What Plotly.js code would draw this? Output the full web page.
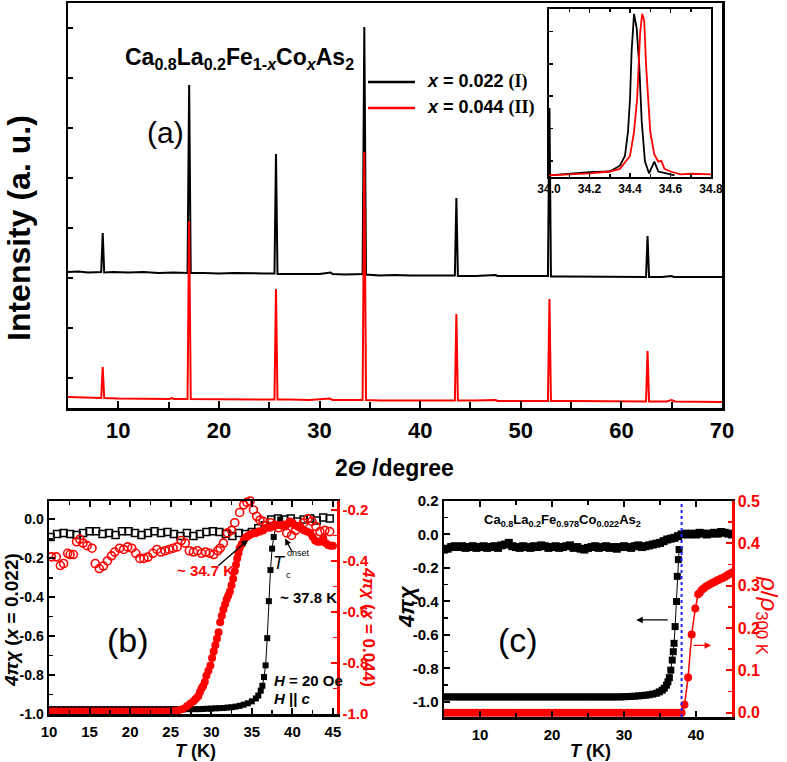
<!DOCTYPE html>
<html><head><meta charset="utf-8">
<script src="https://cdn.plot.ly/plotly-3.0.1.min.js"></script>
<style>html,body{margin:0;padding:0;background:#fff}#chart{width:787px;height:762px}</style>
</head><body><div id="chart"></div>
<script>
// ---------- Panel (a): XRD patterns (intensity offset, arbitrary units) ----------
const xrdTwoThetaI = [5.0,6.0,7.0,8.0,8.3,8.45,8.6,9.5,11.0,12.5,14.0,15.5,16.88,17.04,17.2,18.5,20.0,21.5,23.0,24.5,25.52,25.67,25.82,27.0,28.5,30.0,31.1,31.3,32.5,33.8,34.28,34.45,34.62,36.0,37.5,39.0,40.5,42.0,43.45,43.6,43.75,45.5,47.5,47.7,49.0,50.5,52.0,52.7,52.85,53.0,54.5,56.0,57.5,59.0,60.5,62.45,62.6,62.75,64.0,65.0,65.2,67.0,68.5,70.0];
const xrdIntI = [2.12,2.13,2.11,2.12,2.12,2.90,2.11,2.12,2.11,2.12,2.10,2.11,2.10,5.86,2.10,2.10,2.09,2.10,2.09,2.09,2.09,4.48,2.08,2.08,2.09,2.08,2.11,2.08,2.07,2.07,2.08,7.02,2.07,2.05,2.06,2.05,2.05,2.05,2.05,3.60,2.04,2.04,2.06,2.04,2.04,2.04,2.04,2.04,5.40,2.03,2.03,2.03,2.03,2.03,2.02,2.02,2.84,2.02,2.02,2.04,2.02,2.02,2.02,2.02];
const xrdTwoThetaII = [5.0,6.0,7.0,8.3,8.45,8.6,10.0,11.5,13.0,15.1,15.3,15.5,16.88,17.04,17.2,18.5,20.0,22.0,24.0,25.52,25.67,25.82,27.0,29.0,31.0,31.3,33.0,34.28,34.45,34.62,36.0,38.0,40.0,42.0,43.45,43.6,43.75,45.5,47.5,47.7,49.0,51.0,52.7,52.85,53.0,55.0,57.0,59.0,60.5,62.45,62.6,62.75,64.5,65.0,65.3,67.0,70.0];
const xrdIntII = [-0.38,-0.39,-0.40,-0.40,0.22,-0.40,-0.41,-0.41,-0.42,-0.42,-0.40,-0.42,-0.42,3.14,-0.42,-0.42,-0.42,-0.43,-0.43,-0.43,1.78,-0.43,-0.43,-0.44,-0.41,-0.44,-0.44,-0.44,4.52,-0.44,-0.45,-0.45,-0.44,-0.45,-0.45,1.28,-0.45,-0.45,-0.44,-0.46,-0.46,-0.46,-0.46,1.58,-0.46,-0.46,-0.46,-0.47,-0.47,-0.47,0.54,-0.47,-0.47,-0.44,-0.47,-0.47,-0.48];
const xrdTickVals = [10,20,30,40,50,60,70];
const xrdTickText = ['10','20','30','40','50','60','70'];
const seriesNames = ['x = 0.022 (I)','x = 0.044 (II)'];

// inset: peak near 34.4 deg, normalised
const insetThetaI = [34.0,34.1,34.2,34.3,34.35,34.375,34.39,34.40,34.408,34.42,34.433,34.446,34.458,34.474,34.494,34.52,34.54,34.58,34.62];
const insetIntI = [0.0,0.01,0.02,0.024,0.06,0.12,0.27,0.47,0.77,1.0,0.91,0.67,0.33,0.085,0.012,0.085,0.024,0.012,0.0];
const insetThetaII = [34.0,34.1,34.2,34.3,34.35,34.40,34.42,34.435,34.45,34.46,34.47,34.48,34.49,34.50,34.52,34.54,34.555,34.57,34.60,34.65,34.70,34.75,34.80];
const insetIntII = [0.0,0.006,0.012,0.024,0.04,0.12,0.27,0.47,0.88,1.0,0.96,0.67,0.47,0.27,0.13,0.085,0.09,0.04,0.024,0.006,0.01,0.01,0.006];
const insetTickVals = [34.0,34.2,34.4,34.6,34.8];
const insetTickText = ['34.0','34.2','34.4','34.6','34.8'];

// ---------- Panel (b): susceptibility ----------
const bT_fcI = [10.2,11.0,11.8,12.6,13.4,14.2,15.0,15.8,16.6,17.4,18.2,19.0,19.8,20.6,21.4,22.2,23.0,23.8,24.6,25.4,26.2,27.0,27.8,28.6,29.4,30.2,31.0,31.8,32.6,33.4,34.2,35.0,35.8,36.6,37.4,38.2,39.0,39.8,40.6,41.4,42.2,43.0,43.8,44.6];
const bChi_fcI = [-0.09,-0.075,-0.07,-0.075,-0.08,-0.07,-0.06,-0.06,-0.075,-0.07,-0.08,-0.06,-0.06,-0.07,-0.08,-0.07,-0.06,-0.07,-0.065,-0.075,-0.085,-0.07,-0.085,-0.075,-0.065,-0.06,-0.065,-0.075,-0.085,-0.07,-0.075,-0.065,-0.045,-0.03,0.0,0.005,0.0,0.005,-0.01,0.0,0.005,-0.005,0.01,0.005];
const bT_zfcI = [10,10.5,11,11.5,12,12.5,13,13.5,14,14.5,15,15.5,16,16.5,17,17.5,18,18.5,19,19.5,20,20.5,21,21.5,22,22.5,23,23.5,24,24.5,25,25.5,26,26.5,27,27.5,28,28.5,29,29.5,30,30.5,31,31.5,32,32.5,33,33.5,34,34.5,35,35.5,35.8,36.1,36.3,36.5,36.7,36.9,37.1,37.3,37.5,37.7,38.0,38.5];
const bChi_zfcI = [-0.975,-0.975,-0.975,-0.975,-0.975,-0.975,-0.975,-0.975,-0.975,-0.975,-0.975,-0.975,-0.975,-0.975,-0.975,-0.975,-0.975,-0.975,-0.975,-0.975,-0.975,-0.975,-0.975,-0.975,-0.975,-0.975,-0.975,-0.975,-0.975,-0.975,-0.975,-0.975,-0.975,-0.975,-0.975,-0.975,-0.975,-0.975,-0.974,-0.973,-0.972,-0.971,-0.97,-0.969,-0.967,-0.965,-0.962,-0.958,-0.952,-0.945,-0.935,-0.92,-0.905,-0.88,-0.855,-0.81,-0.75,-0.61,-0.42,-0.26,-0.15,-0.09,-0.03,0.0];
const bT_fcII = [10.3,10.9,11.4,11.8,12.3,12.6,13.0,13.4,13.8,14.2,14.7,15.3,15.7,16.2,16.7,17.2,17.7,18.1,18.7,19.2,19.7,20.2,20.7,21.2,21.7,22.2,22.8,23.3,23.8,24.3,24.8,25.3,25.8,26.3,26.8,27.3,27.8,28.3,28.8,29.3,29.8,30.3,30.8,31.1,31.5,32.0,32.5,32.9,33.5,34.0,34.4,34.8,35.2,35.6,36.0,36.4,36.8,37.3,37.8,38.3,38.8,39.3,39.9,40.4,40.9,41.4,41.9,42.4,42.9,43.4,44.0,44.6];
const bChi_fcII = [-0.384,-0.384,-0.418,-0.41,-0.37,-0.375,-0.375,-0.325,-0.315,-0.33,-0.34,-0.35,-0.41,-0.43,-0.42,-0.40,-0.38,-0.365,-0.35,-0.355,-0.345,-0.35,-0.37,-0.39,-0.39,-0.385,-0.37,-0.355,-0.365,-0.36,-0.355,-0.35,-0.345,-0.32,-0.33,-0.36,-0.365,-0.36,-0.37,-0.365,-0.37,-0.375,-0.36,-0.35,-0.33,-0.29,-0.28,-0.25,-0.21,-0.18,-0.17,-0.165,-0.2,-0.225,-0.24,-0.245,-0.26,-0.25,-0.26,-0.27,-0.26,-0.29,-0.30,-0.28,-0.265,-0.25,-0.235,-0.245,-0.265,-0.285,-0.28,-0.285];
const bT_zfcII = [10,10.5,11,11.5,12,12.5,13,13.5,14,14.5,15,15.5,16,16.5,17,17.5,18,18.5,19,19.5,20,20.5,21,21.5,22,22.5,23,23.5,24,24.5,25,25.5,26,26.5,27,27.4,27.8,28.1,28.4,28.6,28.8,29.0,29.2,29.4,29.65,29.9,30.1,30.3,30.5,30.7,30.9,31.1,31.3,31.5,31.7,31.9,32.1,32.3,32.5,32.7,32.9,33.05,33.2,33.35,33.5,33.75,34.0,34.2,34.4,34.6,34.9,35.2,35.5,35.8,36.0,36.4,36.8,37.2,37.6,38.1,38.5,39.1,39.4,39.7,40.0,40.3,40.7,41.0,41.4,41.8,42.2,42.5,42.8,43.1,43.4,43.8,44.1,44.4,44.7,45.0];
const bChi_zfcII = [-0.99,-0.99,-0.99,-0.99,-0.99,-0.99,-0.99,-0.99,-0.99,-0.99,-0.99,-0.99,-0.99,-0.99,-0.99,-0.99,-0.99,-0.99,-0.99,-0.99,-0.99,-0.99,-0.99,-0.99,-0.99,-0.99,-0.99,-0.99,-0.99,-0.99,-0.99,-0.988,-0.985,-0.98,-0.97,-0.96,-0.95,-0.94,-0.93,-0.915,-0.90,-0.89,-0.875,-0.85,-0.83,-0.81,-0.78,-0.755,-0.73,-0.705,-0.68,-0.64,-0.615,-0.59,-0.57,-0.55,-0.535,-0.52,-0.495,-0.47,-0.44,-0.415,-0.39,-0.37,-0.35,-0.335,-0.32,-0.31,-0.305,-0.30,-0.295,-0.29,-0.29,-0.285,-0.285,-0.28,-0.27,-0.27,-0.265,-0.26,-0.26,-0.265,-0.255,-0.245,-0.25,-0.26,-0.265,-0.27,-0.28,-0.285,-0.29,-0.305,-0.32,-0.325,-0.325,-0.31,-0.33,-0.337,-0.34,-0.34];
const bTickVals = [10,15,20,25,30,35,40,45];
const bTickText = ['10','15','20','25','30','35','40','45'];
const bLeftTickVals = [-1.0,-0.8,-0.6,-0.4,-0.2,0.0];
const bLeftTickText = ['-1.0','-0.8','-0.6','-0.4','-0.2','0.0'];
const bRightTickVals = [-1.0,-0.8,-0.6,-0.4,-0.2];
const bRightTickText = ['-1.0','-0.8','-0.6','-0.4','-0.2'];

// ---------- Panel (c): chi and resistivity, x = 0.022 ----------
const cT_fc = [5.0,5.5,6.0,6.5,7.0,7.5,8.0,8.5,9.0,9.5,10,10.5,11,11.5,12,12.5,13,13.5,14,14.5,15,15.5,16,16.5,17,17.5,18,18.5,19,19.5,20,20.5,21,21.5,22,22.5,23,23.5,24,24.5,25,25.5,26,26.5,27,27.5,28,28.5,29,29.5,30,30.5,31,31.5,32,32.5,33,33.5,34,34.5,35,35.5,36,36.5,37,37.5,38,38.5,39,39.5,40,40.5,41,41.5,42,42.5,43,43.5,44,44.5,45];
const cChi_fc = [-0.09,-0.085,-0.075,-0.07,-0.075,-0.07,-0.08,-0.075,-0.07,-0.08,-0.075,-0.07,-0.08,-0.075,-0.07,-0.08,-0.065,-0.06,-0.05,-0.07,-0.075,-0.08,-0.07,-0.075,-0.08,-0.07,-0.075,-0.065,-0.07,-0.08,-0.075,-0.07,-0.08,-0.075,-0.07,-0.065,-0.08,-0.075,-0.085,-0.09,-0.08,-0.075,-0.07,-0.08,-0.075,-0.07,-0.08,-0.075,-0.085,-0.075,-0.07,-0.075,-0.08,-0.07,-0.065,-0.075,-0.07,-0.065,-0.06,-0.055,-0.05,-0.04,-0.03,-0.025,-0.02,-0.01,0.0,0.005,0.0,0.005,0.0,0.01,0.005,0.0,0.005,0.01,0.005,0.015,0.01,0.005,0.0];
const cT_zfc = [5.0,5.5,6.0,6.5,7.0,7.5,8.0,8.5,9.0,9.5,10,10.5,11,11.5,12,12.5,13,13.5,14,14.5,15,15.5,16,16.5,17,17.5,18,18.5,19,19.5,20,20.5,21,21.5,22,22.5,23,23.5,24,24.5,25,25.5,26,26.5,27,27.5,28,28.5,29,29.5,30,30.5,31,31.5,32,32.5,33,33.5,34,34.5,34.9,35.3,35.6,35.9,36.1,36.3,36.5,36.7,36.85,36.95,37.1,37.3,37.4,37.55,37.65];
const cChi_zfc = [-0.97,-0.97,-0.97,-0.97,-0.97,-0.97,-0.97,-0.97,-0.97,-0.97,-0.97,-0.97,-0.97,-0.97,-0.97,-0.97,-0.97,-0.97,-0.97,-0.97,-0.97,-0.97,-0.97,-0.97,-0.97,-0.97,-0.97,-0.97,-0.97,-0.97,-0.97,-0.97,-0.97,-0.97,-0.97,-0.97,-0.97,-0.97,-0.97,-0.97,-0.97,-0.97,-0.97,-0.97,-0.97,-0.97,-0.97,-0.97,-0.97,-0.97,-0.969,-0.968,-0.967,-0.966,-0.964,-0.962,-0.96,-0.957,-0.953,-0.948,-0.94,-0.93,-0.918,-0.9,-0.88,-0.855,-0.81,-0.75,-0.70,-0.65,-0.55,-0.40,-0.25,-0.15,-0.09];
const cT_rho = [5.0,5.5,6.0,6.5,7.0,7.5,8.0,8.5,9.0,9.5,10,10.5,11,11.5,12,12.5,13,13.5,14,14.5,15,15.5,16,16.5,17,17.5,18,18.5,19,19.5,20,20.5,21,21.5,22,22.5,23,23.5,24,24.5,25,25.5,26,26.5,27,27.5,28,28.5,29,29.5,30,30.5,31,31.5,32,32.5,33,33.5,34,34.5,35,35.5,36,36.5,37,37.5,38.0,38.4,38.9,39.4,39.9,40.3,40.5,40.8,41.1,41.4,41.7,42.0,42.3,42.6,42.9,43.2,43.5,43.8,44.1,44.4,44.7,45.0];
const cRho = [0,0,0,0,0,0,0,0,0,0,0,0,0,0,0,0,0,0,0,0,0,0,0,0,0,0,0,0,0,0,0,0,0,0,0,0,0,0,0,0,0,0,0,0,0,0,0,0,0,0,0,0,0,0,0,0,0,0,0,0,0,0,0,0,0,0,0.0,0.019,0.083,0.185,0.246,0.28,0.283,0.29,0.294,0.298,0.301,0.304,0.307,0.309,0.312,0.314,0.317,0.319,0.322,0.325,0.328,0.331];
const tcLine = 38.0;
const cTickVals = [10,20,30,40];
const cTickText = ['10','20','30','40'];
const cLeftTickVals = [-1.0,-0.8,-0.6,-0.4,-0.2,0.0,0.2];
const cLeftTickText = ['-1.0','-0.8','-0.6','-0.4','-0.2','0.0','0.2'];
const cRightTickVals = [0.0,0.1,0.2,0.3,0.4,0.5];
const cRightTickText = ['0.0','0.1','0.2','0.3','0.4','0.5'];

// ---------- layout helpers ----------
const W = 787, H = 762;
const px = v => v / W;
const py = v => 1 - v / H;
const FONT = 'Liberation Sans, Arial, sans-serif';
const RED = '#ff0000';

const traces = [
  {x: xrdTwoThetaI, y: xrdIntI, xaxis: 'x', yaxis: 'y', mode: 'lines', name: seriesNames[0], line: {color: '#000', width: 2}},
  {x: xrdTwoThetaII, y: xrdIntII, xaxis: 'x', yaxis: 'y', mode: 'lines', name: seriesNames[1], line: {color: RED, width: 2}},
  {x: insetThetaI, y: insetIntI, xaxis: 'x2', yaxis: 'y2', mode: 'lines', line: {color: '#000', width: 1.8}},
  {x: insetThetaII, y: insetIntII, xaxis: 'x2', yaxis: 'y2', mode: 'lines', line: {color: RED, width: 1.8}},
  {x: bT_fcI, y: bChi_fcI, xaxis: 'x3', yaxis: 'y3', mode: 'markers', marker: {symbol: 'square-open', size: 7, color: '#000', line: {width: 1.5}}},
  {x: bT_zfcI, y: bChi_zfcI, xaxis: 'x3', yaxis: 'y3', mode: 'lines+markers', line: {color: '#000', width: 1}, marker: {symbol: 'square', size: 6, color: '#000'}},
  {x: bT_fcII, y: bChi_fcII, xaxis: 'x3', yaxis: 'y4', mode: 'markers', cliponaxis: false, marker: {symbol: 'circle-open', size: 8, color: RED, line: {width: 1.6}}},
  {x: bT_zfcII, y: bChi_zfcII, xaxis: 'x3', yaxis: 'y4', mode: 'lines+markers', line: {color: RED, width: 1, dash: 'dot'}, marker: {symbol: 'circle', size: 8, color: RED}},
  {x: cT_fc, y: cChi_fc, xaxis: 'x4', yaxis: 'y5', mode: 'markers', marker: {symbol: 'square', size: 8, color: '#000'}},
  {x: cT_zfc, y: cChi_zfc, xaxis: 'x4', yaxis: 'y5', mode: 'lines+markers', line: {color: '#000', width: 1}, marker: {symbol: 'square', size: 7, color: '#000'}},
  {x: cT_rho, y: cRho, xaxis: 'x4', yaxis: 'y6', mode: 'lines+markers', line: {color: RED, width: 1.5}, marker: {symbol: 'circle', size: 8, color: RED}}
];

const axBase = {showgrid: false, zeroline: false, showline: true, linecolor: '#000', linewidth: 2.5,
  ticks: 'inside', tickcolor: '#000', tickwidth: 2, ticklen: 6, fixedrange: true};

function tf(size, color) { return {family: FONT, size: size, color: color || '#000', weight: 'bold'}; }

const layout = {
  width: W, height: H, margin: {l: 0, r: 0, t: 0, b: 0},
  paper_bgcolor: '#fff', plot_bgcolor: 'rgba(0,0,0,0)', showlegend: false,
  font: {family: FONT, color: '#000'},
  xaxis: Object.assign({}, axBase, {domain: [px(68), px(722)], anchor: 'y', range: [5, 70], mirror: true,
    tickvals: xrdTickVals, ticktext: xrdTickText, tickfont: tf(22), ticklen: 7, ticklabelstandoff: 1,
    minor: {tickvals: [15,25,35,45,55,65], ticks: 'inside', ticklen: 6, tickwidth: 2, tickcolor: '#000'}}),
  yaxis: Object.assign({}, axBase, {domain: [py(408), py(3)], anchor: 'x', range: [-0.6, 7.5], mirror: true,
    tickvals: [0,1,2,3,4,5,6,7], showticklabels: false, ticklen: 5}),
  xaxis2: Object.assign({}, axBase, {domain: [px(549), px(711)], anchor: 'y2', range: [34.0, 34.8], mirror: 'ticks', linewidth: 2,
    tickvals: insetTickVals, ticktext: insetTickText, tickfont: tf(12), ticklen: 4, tickwidth: 1.5,
    minor: {tickvals: [34.1,34.3,34.5,34.7], ticks: 'inside', ticklen: 3, tickwidth: 1.5, tickcolor: '#000'}}),
  yaxis2: Object.assign({}, axBase, {domain: [py(177), py(9)], anchor: 'x2', range: [-0.01, 1.03], mirror: true, linewidth: 2,
    tickvals: [0.09,0.29,0.49,0.69,0.89], showticklabels: false, ticklen: 4, tickwidth: 1.5}),
  xaxis3: Object.assign({}, axBase, {domain: [px(49), px(337)], anchor: 'y3', range: [10, 45.5], mirror: 'ticks',
    tickvals: bTickVals, ticktext: bTickText, tickfont: tf(15), ticklen: 6, ticklabelstandoff: 2,
    minor: {tickvals: [12.5,17.5,22.5,27.5,32.5,37.5,42.5], ticks: 'inside', ticklen: 4, tickwidth: 1.5, tickcolor: '#000'}}),
  yaxis3: Object.assign({}, axBase, {domain: [py(714), py(501)], anchor: 'x3', range: [-1.0, 0.095],
    tickvals: bLeftTickVals, ticktext: bLeftTickText, tickfont: tf(14),
    minor: {tickvals: [-0.9,-0.7,-0.5,-0.3,-0.1], ticks: 'inside', ticklen: 4, tickwidth: 1.5, tickcolor: '#000'}}),
  yaxis4: Object.assign({}, axBase, {overlaying: 'y3', side: 'right', anchor: 'x3', range: [-1.0, -0.165],
    linecolor: RED, tickcolor: RED, tickvals: bRightTickVals, ticktext: bRightTickText, tickfont: tf(15, RED),
    minor: {tickvals: [-0.9,-0.7,-0.5,-0.3], ticks: 'inside', ticklen: 4, tickwidth: 1.5, tickcolor: RED}}),
  xaxis4: Object.assign({}, axBase, {domain: [px(444), px(732)], anchor: 'y5', range: [5, 45], mirror: 'ticks',
    tickvals: cTickVals, ticktext: cTickText, tickfont: tf(15), ticklen: 6, ticklabelstandoff: 2,
    minor: {tickvals: [5,15,25,35,45], ticks: 'inside', ticklen: 4, tickwidth: 1.5, tickcolor: '#000'}}),
  yaxis5: Object.assign({}, axBase, {domain: [py(717), py(501)], anchor: 'x4', range: [-1.09, 0.2],
    tickvals: cLeftTickVals, ticktext: cLeftTickText, tickfont: tf(15),
    minor: {tickvals: [-0.9,-0.7,-0.5,-0.3,-0.1,0.1], ticks: 'inside', ticklen: 4, tickwidth: 1.5, tickcolor: '#000'}}),
  yaxis6: Object.assign({}, axBase, {overlaying: 'y5', side: 'right', anchor: 'x4', range: [-0.01, 0.5],
    linecolor: RED, tickcolor: RED, tickvals: cRightTickVals, ticktext: cRightTickText, tickfont: tf(16, RED),
    minor: {tickvals: [0.05,0.15,0.25,0.35,0.45], ticks: 'inside', ticklen: 4, tickwidth: 1.5, tickcolor: RED}}),
  shapes: [
    {type: 'line', xref: 'x4', yref: 'y5 domain', x0: tcLine, x1: tcLine, y0: 0, y1: 1, line: {color: '#2222ff', width: 2, dash: 'dot'}},
    {type: 'line', xref: 'paper', yref: 'paper', x0: px(368), x1: px(415), y0: py(82), y1: py(82), line: {color: '#000', width: 2.5}},
    {type: 'line', xref: 'paper', yref: 'paper', x0: px(368), x1: px(415), y0: py(108), y1: py(108), line: {color: RED, width: 2.5}}
  ],
  annotations: []
};

function txt(text, x, y, size, opts) {
  return Object.assign({xref: 'paper', yref: 'paper', x: px(x), y: py(y), text: text, showarrow: false,
    xanchor: 'center', yanchor: 'middle', font: {family: FONT, size: size, color: '#000'}}, opts || {});
}
function arrow(xref, yref, x, y, ax, ay, color) {
  return {xref: xref, yref: yref, x: x, y: y, ax: ax, ay: ay, axref: 'pixel', ayref: 'pixel', text: '', showarrow: true,
    arrowhead: 2, arrowsize: 1, arrowwidth: 1.3, arrowcolor: color || '#000'};
}

layout.annotations.push(
  // panel (a)
  txt('<b>Ca<sub>0.8</sub>La<sub>0.2</sub>Fe<sub>1-<i>x</i></sub>Co<sub><i>x</i></sub>As<sub>2</sub></b>', 123, 58, 23, {xanchor: 'left'}),
  txt('(a)', 165, 132, 30),
  txt('<b><i>x</i> = 0.022 <span style="font-family:Liberation Serif">(I)</span></b>', 425, 82, 18, {xanchor: 'left'}),
  txt('<b><i>x</i> = 0.044 <span style="font-family:Liberation Serif">(II)</span></b>', 425, 108, 18, {xanchor: 'left'}),
  txt('<b>2<i>Θ</i> /degree</b>', 395, 468, 23),
  txt('<b>Intensity (a. u.)</b>', 19, 228, 32, {textangle: -90}),
  // panel (b)
  txt('<b><i>4πχ</i> (<i>x</i> = 0.022)</b>', 11, 620, 19, {textangle: -90}),
  txt('<b><i>4πχ</i> (<i>x</i> = 0.044)</b>', 369, 627, 17, {textangle: 90, font: {family: FONT, size: 17, color: RED}}),
  txt('<b>~ 34.7 K</b>', 205, 570, 15, {font: {family: FONT, size: 15, color: RED}}),
  txt('<i>T</i>', 279, 563, 18),
  txt('c', 288, 575, 9),
  txt('onset', 285, 553, 9, {xanchor: 'left'}),
  txt('<b>~ 37.8 K</b>', 308, 597, 15),
  txt('(b)', 128, 640, 34),
  txt('<b><i>H</i> = 20 Oe</b>', 272, 680, 15, {xanchor: 'left'}),
  txt('<b><i>H</i> || <i>c</i></b>', 272, 698, 15, {xanchor: 'left'}),
  txt('<b><i>T</i> (K)</b>', 195, 751, 18),
  arrow('x3', 'y4', 34.5, -0.318, -31, 27),
  arrow('x3', 'y3', 39.1, -0.098, 8, 15),
  // panel (c)
  txt('<b>Ca<sub>0.8</sub>La<sub>0.2</sub>Fe<sub>0.978</sub>Co<sub>0.022</sub>As<sub>2</sub></b>', 562, 520, 13),
  txt('(c)', 518, 640, 34),
  txt('<b><i>T</i> (K)</b>', 590, 751, 18),
  txt('<b><i>4πχ</i></b>', 406, 607, 22, {textangle: -90}),
  txt('<i>ρ</i>/<i>ρ</i><sub>300 K</sub>', 768, 615, 24, {textangle: 90, font: {family: FONT, size: 24, color: RED}}),
  arrow('x4', 'y5', 31.7, -0.51, 33, 0),
  arrow('x4', 'y6', 42.1, 0.159, -19, 0, RED)
);

Plotly.newPlot('chart', traces, layout, {displayModeBar: false, staticPlot: true});
</script></body></html>
